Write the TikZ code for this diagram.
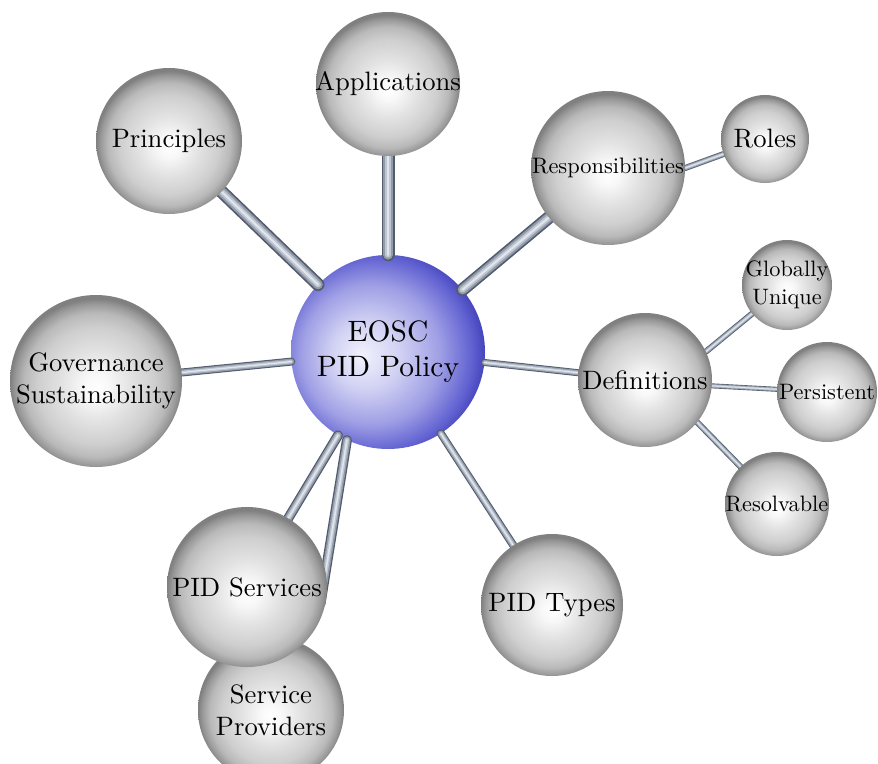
\documentclass[tikz,border=0pt]{standalone}
\usepackage{fontspec}
\setmainfont{lmroman10-regular.otf}
\usetikzlibrary{calc}
\pgfdeclarelayer{bg}
\pgfdeclarelayer{pipes}
\pgfsetlayers{bg,pipes,main}

\definecolor{pipeA}{RGB}{82,92,108}
\definecolor{pipeB}{RGB}{145,155,170}
\definecolor{pipeC}{RGB}{190,198,210}
\definecolor{pipeD}{RGB}{226,230,236}

\definecolor{bA}{RGB}{242,242,253}
\definecolor{bB}{RGB}{208,208,243}
\definecolor{bC}{RGB}{158,158,229}
\definecolor{bD}{RGB}{98,98,210}
\definecolor{bE}{RGB}{42,42,168}

\pgfdeclareradialshading{grayball}{\pgfpoint{0bp}{-2bp}}{%
  color(0bp)=(white); color(4bp)=(gray!6); color(10bp)=(gray!22);
  color(17bp)=(gray!38); color(21bp)=(gray!55); color(23.5bp)=(gray!80);
  color(25bp)=(gray!100); color(50bp)=(gray!100)}
\pgfdeclareradialshading{blueball}{\pgfpoint{-7bp}{-1bp}}{%
  color(0bp)=(bA); color(9bp)=(bB); color(18bp)=(bC);
  color(25bp)=(bD); color(31bp)=(bE); color(50bp)=(bE)}

\newcommand\fnMain{\fontsize{26.6}{32}\selectfont}
\newcommand\fnSmall{\fontsize{22.3}{27.5}\selectfont}
\newcommand\fnBig{\fontsize{29.5}{35}\selectfont}

\tikzset{
  ball/.style={circle, inner sep=0pt, minimum size=#1, shade, shading=grayball},
  blueorb/.style={circle, inner sep=0pt, minimum size=#1, shade, shading=blueball},
  lbl/.style={align=center, inner sep=0pt, text=black},
  pipe/.style={line width=#1, draw=pipeA, line cap=round,
    postaction={draw=pipeB, line width=0.74*#1, line cap=round},
    postaction={draw=pipeC, line width=0.44*#1, line cap=round},
    postaction={draw=pipeD, line width=0.16*#1, line cap=round}},
}

\begin{document}
\begin{tikzpicture}[x=1pt,y=-1pt]
\useasboundingbox (0,0) rectangle (878,763);

% central ball
\begin{pgfonlayer}{bg}
  \node[blueorb=194pt] (eosc) at (388,352) {};
\end{pgfonlayer}

% outer balls
\node[ball=144pt] (app)   at (388,84)  {};
\node[ball=146pt] (prin)  at (169,141) {};
\node[ball=154pt] (resp)  at (608,168) {};
\node[ball=88pt]  (roles) at (765,139) {};
\node[ball=172pt] (gov)   at (96,381)  {};
\node[ball=134pt] (def)   at (645,380) {};
\node[ball=90pt]  (gu)    at (787,285) {};
\node[ball=100pt] (pers)  at (827,392) {};
\node[ball=104pt] (res)   at (777,504) {};
\node[ball=142pt] (ptyp)  at (552,605) {};
\node[ball=146pt] (sp)    at (271,710) {};
\node[ball=160pt] (psrv)  at (247,587) {};

% labels
\node[lbl, font=\fnBig] (eoscT) at (eosc) {EOSC\\PID Policy};
\node[lbl, font=\fnMain] (appT) at (app) {Applications};
\node[lbl, font=\fnMain] (prinT) at (prin) {Principles};
\node[lbl, font=\fontsize{22.4}{27}\selectfont] (respT) at (resp) {Responsibilities};
\node[lbl, font=\fnMain] (rolesT) at (roles) {Roles};
\node[lbl, font=\fnMain] (govT) at (gov) {Governance\\Sustainability};
\node[lbl, font=\fnMain] (defT) at (def) {Definitions};
\node[lbl, font=\fnSmall] (guT) at (gu) {Globally\\Unique};
\node[lbl, font=\fnSmall] (persT) at (pers) {Persistent};
\node[lbl, font=\fnSmall] (resT) at (res) {Resolvable};
\node[lbl, font=\fnMain] (ptypT) at (ptyp) {PID Types};
\node[lbl, font=\fnMain] (psrvT) at (psrv) {PID Services};
\node[lbl, font=\fnMain] (spT) at (sp) {Service\\Providers};

% connectors
\begin{pgfonlayer}{pipes}
  \draw[pipe=13pt] (eosc) -- (prin);
  \draw[pipe=13pt] (eosc) -- (app);
  \draw[pipe=13pt] (eosc) -- (resp);
  \draw[pipe=8pt]  (eosc) -- (gov);
  \draw[pipe=7pt]  (eosc) -- (def);
  \draw[pipe=8pt]  (eosc) -- (ptyp);
  \draw[pipe=10pt] (eosc) -- (psrv);
  \draw[pipe=10pt] (eosc.245) -- ($(eosc.245)!0.78!(sp.55)$);
  \draw[pipe=6pt]  (resp.east) -- (roles);
  \draw[pipe=6pt]  (def.25) -- (gu);
  \draw[pipe=5pt]  (def.-5) -- (pers);
  \draw[pipe=6pt]  (def.-39) -- (res);
\end{pgfonlayer}
\end{tikzpicture}
\end{document}
